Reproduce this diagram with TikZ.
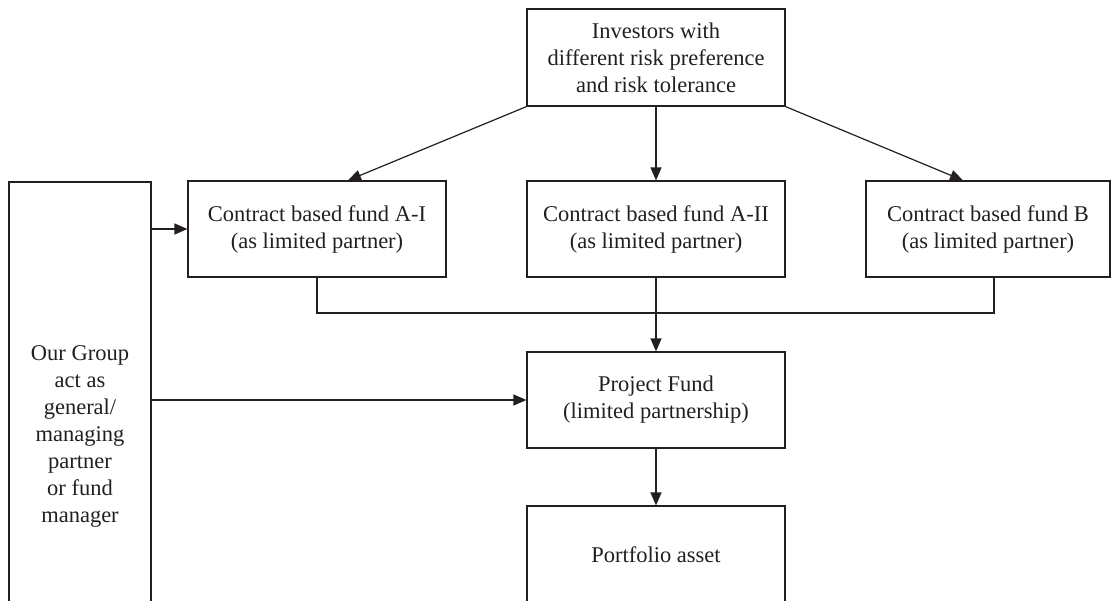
\documentclass[tikz,border=0pt]{standalone}
\usepackage{fontspec}
\setmainfont{Liberation Serif}
\usetikzlibrary{arrows.meta}
\definecolor{ink}{HTML}{231F20}
\tikzset{
  box/.style={draw=ink, line width=1.2pt, rectangle, inner sep=0pt,
    align=center, text=ink, font=\fontsize{22.5}{27}\selectfont},
  link/.style={draw=ink, line width=1.2pt},
  arr/.style={link, -{Triangle[length=13pt,width=11pt]}}
}
\begin{document}
\begin{tikzpicture}[x=1pt, y=-1pt]
\useasboundingbox (0,0) rectangle (1118,600);
\clip (0,0) rectangle (1118,600);

% investors
\node[box, minimum width=258pt, minimum height=97pt] (inv) at (656,57.5)
  {Investors with\\different risk preference\\and risk tolerance};

% contract based funds
\node[box, minimum width=258pt, minimum height=96pt] (ai) at (317,229)
  {Contract based fund A-I\\(as limited partner)};
\node[box, minimum width=258pt, minimum height=96pt] (aii) at (656,229)
  {Contract based fund A-II\\(as limited partner)};
\node[box, minimum width=244pt, minimum height=96pt] (b) at (988,229)
  {Contract based fund B\\(as limited partner)};

% project fund and asset
\node[box, minimum width=258pt, minimum height=96pt] (pf) at (656,400)
  {Project Fund\\(limited partnership)};
\node[box, minimum width=258pt, minimum height=98pt] (pa) at (656,555)
  {Portfolio asset};

% group (runs below the lower edge)
\node[box, minimum width=142pt, minimum height=508pt] (grp) at (80,436)
  {Our Group\\act as\\general/\\managing\\partner\\or fund\\manager};

% investors to funds
\draw[arr] (inv.south west) -- ([xshift=31pt]ai.north);
\draw[arr] (inv.south) -- (aii.north);
\draw[arr] (inv.south east) -- ([xshift=-25pt]b.north);

% funds merge into project fund
\coordinate (m) at (656,313);
\draw[link] (ai.south) |- (m);
\draw[link] ([xshift=6pt]b.south) |- (m);
\draw[arr] (aii.south) -- (pf.north);

% group role
\draw[arr] (grp.east |- ai.west) -- (ai.west);
\draw[arr] (grp.east |- pf.west) -- (pf.west);

% project fund to asset
\draw[arr] (pf.south) -- (pa.north);
\end{tikzpicture}
\end{document}
